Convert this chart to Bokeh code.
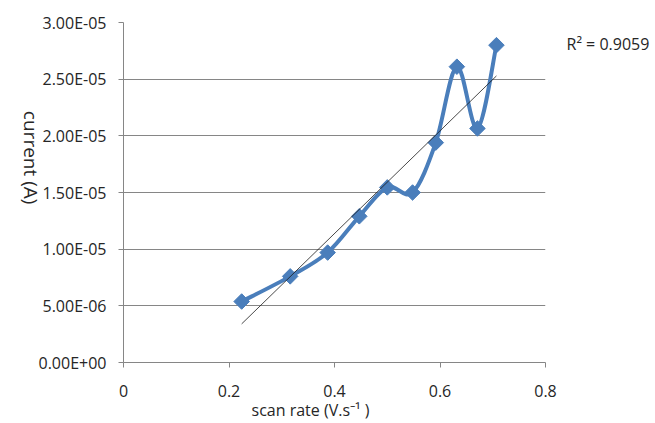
import numpy as np
from bokeh.plotting import figure
from bokeh.models import Range1d, FixedTicker, CustomJSTickFormatter, ColumnDataSource, LinearAxis
from bokeh.embed import file_html
from bokeh.resources import INLINE

# ---- data ----
scan_rate = [0.224, 0.316, 0.387, 0.447, 0.500, 0.548, 0.592, 0.632, 0.671, 0.707]
current = [5.38e-06, 7.60e-06, 9.70e-06, 1.29e-05, 1.545e-05, 1.50e-05, 1.94e-05, 2.61e-05, 2.065e-05, 2.80e-05]
r2_text = "R\u00b2 = 0.9059"
x_ticks = [0, 0.2, 0.4, 0.6, 0.8]
x_tick_labels = ["0", "0.2", "0.4", "0.6", "0.8"]
y_ticks = [0, 5e-06, 1e-05, 1.5e-05, 2e-05, 2.5e-05, 3e-05]
y_tick_labels = ["0.00E+00", "5.00E-06", "1.00E-05", "1.50E-05", "2.00E-05", "2.50E-05", "3.00E-05"]
x_label = "scan rate (V.s\u207b\u00b9 )"
y_label = "current (A)"

FONT = "Open Sans"
TXT = "#262626"
GRID = "#868686"
BLUE = "#4A7EBB"
FS = "16px"

p = figure(width=655, height=423, output_backend="svg", toolbar_location=None,
           x_range=Range1d(0, 0.8), y_range=Range1d(0, 3e-05),
           min_border_left=123, min_border_right=110, min_border_top=22, min_border_bottom=61)
p.outline_line_color = None
p.background_fill_color = "white"
p.border_fill_color = "white"
p.xgrid.visible = False
p.ygrid.grid_line_color = GRID
p.ygrid.grid_line_width = 1

def lookup_formatter(tick_vals, labels):
    return CustomJSTickFormatter(args=dict(tv=tick_vals, tl=labels), code="""
        let best = 0, bd = Infinity;
        for (let i = 0; i < tv.length; i++) {
            const d = Math.abs(tv[i] - tick);
            if (d < bd) { bd = d; best = i; }
        }
        return tl[best];
    """)

def style(ax, fs=FS):
    ax.major_label_text_font = FONT
    ax.major_label_text_font_size = fs
    ax.major_label_text_color = TXT
    ax.minor_tick_line_color = None

for ax, tvals, labels in ((p.xaxis[0], x_ticks, x_tick_labels), (p.yaxis[0], y_ticks, y_tick_labels)):
    ax.ticker = FixedTicker(ticks=tvals)
    ax.formatter = lookup_formatter(tvals, labels)
    ax.axis_line_color = GRID
    ax.major_tick_line_color = GRID
    ax.major_tick_in = 0
    ax.major_tick_out = 5
    style(ax)
p.yaxis[0].major_label_standoff = 12
p.xaxis[0].major_label_standoff = 17

# text-only axes carrying the axis titles and the R² note at their own positions
xlab_pos = [0.3545]
ylab_pos = [1.395e-05]
r2_pos = [2.81e-05]

def text_axis(pos, labels, standoff, orientation="horizontal", fs=FS):
    ax = LinearAxis(ticker=FixedTicker(ticks=pos), formatter=lookup_formatter(pos, labels),
                    axis_line_color=None, major_tick_line_color=None,
                    major_tick_in=0, major_tick_out=0, major_label_standoff=standoff,
                    major_label_orientation=orientation)
    style(ax, fs)
    return ax

p.add_layout(text_axis(xlab_pos, [x_label], -1), "below")
p.add_layout(text_axis(ylab_pos, [y_label], 5, -np.pi / 2, "19px"), "left")
p.add_layout(text_axis(r2_pos, [r2_text], 21), "right")

# smoothed series line (Catmull-Rom style Bezier through the data points)
xs = np.array(scan_rate)
ys = np.array(current)
n = len(xs)
x0, y0, x1, y1, cx0, cy0, cx1, cy1 = [], [], [], [], [], [], [], []
for i in range(n - 1):
    pm = max(i - 1, 0)
    pp = min(i + 2, n - 1)
    x0.append(xs[i]); y0.append(ys[i]); x1.append(xs[i + 1]); y1.append(ys[i + 1])
    cx0.append(xs[i] + (xs[i + 1] - xs[pm]) / 6.0)
    cy0.append(ys[i] + (ys[i + 1] - ys[pm]) / 6.0)
    cx1.append(xs[i + 1] - (xs[pp] - xs[i]) / 6.0)
    cy1.append(ys[i + 1] - (ys[pp] - ys[i]) / 6.0)
bsrc = ColumnDataSource(dict(x0=x0, y0=y0, x1=x1, y1=y1, cx0=cx0, cy0=cy0, cx1=cx1, cy1=cy1))
p.bezier(x0="x0", y0="y0", x1="x1", y1="y1", cx0="cx0", cy0="cy0", cx1="cx1", cy1="cy1",
         source=bsrc, line_color=BLUE, line_width=4, line_cap="round", line_join="round")

p.scatter(scan_rate, current, marker="square", angle=np.pi / 4, size=11,
          fill_color=BLUE, line_color=BLUE)

# linear trendline
slope, intercept = np.polyfit(xs, ys, 1)
tx = [xs.min(), xs.max()]
p.line(tx, [slope * t + intercept for t in tx], line_color="#1a1a1a", line_width=0.8)

open("out.html", "w").write(file_html(p, INLINE))
